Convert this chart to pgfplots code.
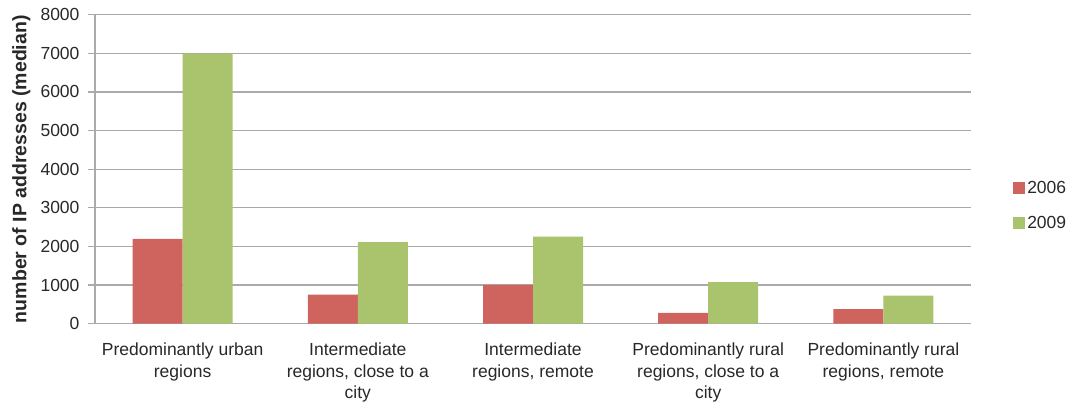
\documentclass[border=0pt]{standalone}
\usepackage{fontspec}
\setmainfont{Liberation Sans}
\usepackage{pgfplots}
\pgfplotsset{compat=1.18}
\definecolor{cred}{RGB}{207,100,94}
\definecolor{cgreen}{RGB}{169,196,108}
\definecolor{cgrid}{RGB}{170,170,170}
\definecolor{ctext}{RGB}{40,40,40}
\begin{document}
\begin{tikzpicture}
\begin{axis}[
  scale only axis,
  width=876pt, height=309pt,
  xmin=-0.5, xmax=4.5,
  ymin=0, ymax=8000,
  ybar=0pt, bar width=50pt,
  axis x line*=bottom, axis y line*=left,
  axis line style={cgrid, line width=1.2pt},
  ytick={0,1000,...,8000},
  ymajorgrids,
  major grid style={cgrid, line width=1.2pt},
  xtick={0,1,2,3,4},
  xticklabels={{Predominantly urban\\regions},{Intermediate\\regions, close to a\\city},{Intermediate\\regions, remote},{Predominantly rural\\regions, close to a\\city},{Predominantly rural\\regions, remote}},
  minor xtick={-0.5,0.5,1.5,2.5,3.5,4.5},
  xtick style={draw=none},
  minor x tick style={cgrid, line width=1.2pt},
  ytick style={cgrid, line width=1.2pt},
  tick align=outside,
  major tick length=7pt, minor tick length=8pt,
  tick label style={font=\fontsize{17.5}{21.5}\selectfont, text=ctext},
  xticklabel style={align=center, yshift=-9pt},
  yticklabel style={xshift=-5pt},
  scaled y ticks=false,
  /pgf/number format/assume math mode=true,
  /pgf/number format/1000 sep={},
  ylabel={\bfseries number of IP addresses (median)},
  ylabel style={font=\fontsize{19.5}{23}\selectfont, text=ctext, at={(rel axis cs:0,0.5)}, anchor=south, rotate=0, yshift=61pt},
  legend style={at={(rel axis cs:1.048,0.382)}, anchor=west, draw=none, fill=none, font=\fontsize{17.5}{21}\selectfont, text=ctext, row sep=17pt, inner sep=0pt},
  legend cell align=left,
  legend image code/.code={\draw[#1, draw=none] (0pt,-6pt) rectangle (12pt,6pt);},
]
\addplot[fill=cred, draw=none] coordinates {(0,2195) (1,755) (2,1005) (3,280) (4,375)};
\addplot[fill=cgreen, draw=none] coordinates {(0,6990) (1,2110) (2,2255) (3,1075) (4,725)};
\legend{2006,2009}
\end{axis}
\pgfresetboundingbox
\path ([shift={(-95pt,-81pt)}]current axis.south west) rectangle ([shift={(102pt,14.7pt)}]current axis.north east);
\end{tikzpicture}
\end{document}
